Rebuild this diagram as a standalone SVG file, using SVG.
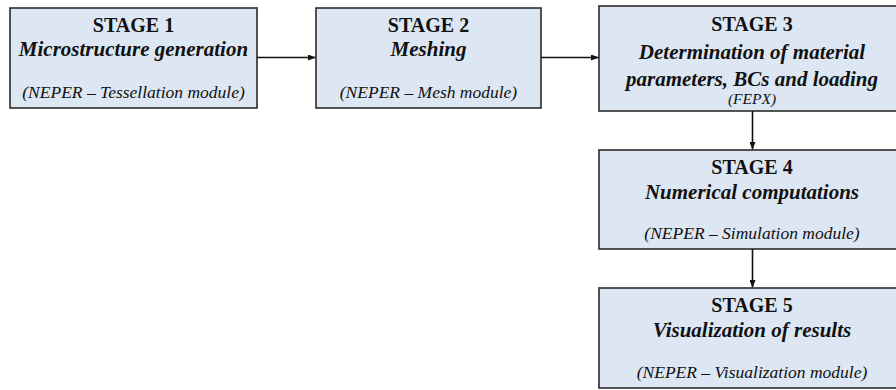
<svg xmlns="http://www.w3.org/2000/svg" width="896" height="390" viewBox="0 0 896 390">
<style>
.box{fill:#dde7f3;stroke:#2b2b2b;stroke-width:1.6}
.t{font-family:"Liberation Serif","Times New Roman",serif;fill:#111;text-anchor:middle}
.h{font-size:20px;font-weight:bold}
.s{font-size:21px;font-weight:bold;font-style:italic}
.p{font-size:17.5px;font-style:italic}
.c{stroke:#111;stroke-width:1.6;fill:none;marker-end:url(#ah)}
</style>
<defs>
<marker id="ah" markerWidth="8" markerHeight="6" refX="7" refY="3" orient="auto" markerUnits="userSpaceOnUse">
<path d="M0,0 L8,3 L0,6 Z" fill="#111"/>
</marker>
</defs>
<rect width="896" height="390" fill="#fff"/>
<g id="stage1">
<rect class="box" x="10" y="8" width="247" height="100"/>
<text class="t h" x="133.5" y="32">STAGE 1</text>
<text class="t s" x="133.5" y="56">Microstructure generation</text>
<text class="t p" x="133.5" y="98">(NEPER – Tessellation module)</text>
</g>
<g id="stage2">
<rect class="box" x="316" y="8" width="225" height="100"/>
<text class="t h" x="428.5" y="32">STAGE 2</text>
<text class="t s" x="428.5" y="56">Meshing</text>
<text class="t p" x="428.5" y="98">(NEPER – Mesh module)</text>
</g>
<g id="stage3">
<rect class="box" x="599" y="6" width="310" height="105"/>
<text class="t h" x="752" y="31">STAGE 3</text>
<text class="t s" x="752" y="59">Determination of material</text>
<text class="t s" x="752" y="86">parameters, BCs and loading</text>
<text class="t p" x="752" y="104" style="font-size:15.5px">(FEPX)</text>
</g>
<g id="stage4">
<rect class="box" x="599" y="150" width="310" height="99"/>
<text class="t h" x="752" y="174">STAGE 4</text>
<text class="t s" x="752" y="199">Numerical computations</text>
<text class="t p" x="752" y="239">(NEPER – Simulation  module)</text>
</g>
<g id="stage5">
<rect class="box" x="599" y="288" width="310" height="100"/>
<text class="t h" x="752" y="312">STAGE 5</text>
<text class="t s" x="752" y="337">Visualization of results</text>
<text class="t p" x="752" y="378">(NEPER – Visualization module)</text>
</g>
<g id="connectors">
<line class="c" x1="257" y1="57.5" x2="315" y2="57.5"/>
<line class="c" x1="541" y1="57.5" x2="598" y2="57.5"/>
<line class="c" x1="752.5" y1="111" x2="752.5" y2="149"/>
<line class="c" x1="752.5" y1="249" x2="752.5" y2="287"/>
</g>
</svg>
